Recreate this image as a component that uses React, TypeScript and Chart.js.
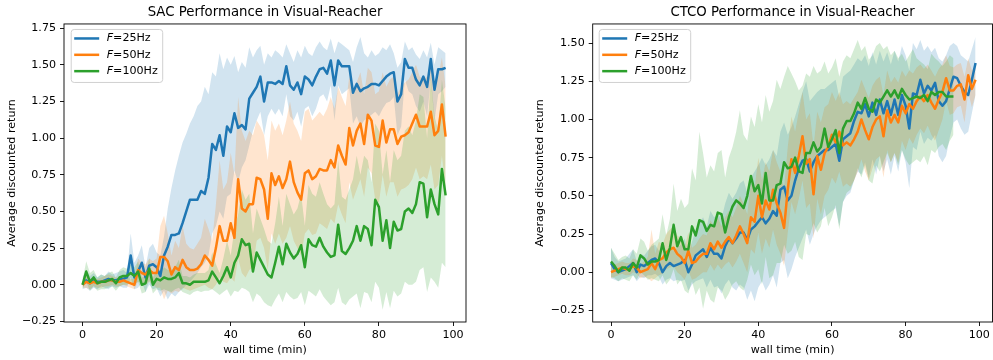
import React, { useEffect, useRef } from "react";
import { Chart, registerables } from "chart.js";

Chart.register(...registerables);

const FONT = "'DejaVu Sans', 'Liberation Sans', sans-serif";
const BLUE = "#1f77b4";
const ORANGE = "#ff7f0e";
const GREEN = "#2ca02c";

// ---------- x grids (wall time, min) ----------
const sacMinutes = [
  0, 1, 2, 3, 4, 5, 6, 7, 8, 9, 10, 11, 12, 13, 14, 15, 16, 17, 18, 19,
  20, 21, 22, 23, 24, 25, 26, 27, 28, 29, 30, 31, 32, 33, 34, 35, 36, 37, 38, 39,
  40, 41, 42, 43, 44, 45, 46, 47, 48, 49, 50, 51, 52, 53, 54, 55, 56, 57, 58, 59,
  60, 61, 62, 63, 64, 65, 66, 67, 68, 69, 70, 71, 72, 73, 74, 75, 76, 77, 78, 79,
  80, 81, 82, 83, 84, 85, 86, 87, 88, 89, 90, 91, 92, 93, 94, 95, 96, 97, 98,
];
const ctcoMinutes = [
  0, 1, 2, 3, 4, 5, 6, 7, 8, 9, 10, 11, 12, 13, 14, 15, 16, 17, 18, 19,
  20, 21, 22, 23, 24, 25, 26, 27, 28, 29, 30, 31, 32, 33, 34, 35, 36, 37, 38, 39,
  40, 41, 42, 43, 44, 45, 46, 47, 48, 49, 50, 51, 52, 53, 54, 55, 56, 57, 58, 59,
  60, 61, 62, 63, 64, 65, 66, 67, 68, 69, 70, 71, 72, 73, 74, 75, 76, 77, 78, 79,
  80, 81, 82, 83, 84, 85, 86, 87, 88, 89, 90, 91, 92, 93, 94, 95, 96, 97, 98, 99,
];
const ctcoMinutes100Hz = [
  0, 1, 2, 3, 4, 5, 6, 7, 8, 9, 10, 11, 12, 13, 14, 15, 16, 17, 18, 19,
  20, 21, 22, 23, 24, 25, 26, 27, 28, 29, 30, 31, 32, 33, 34, 35, 36, 37, 38, 39,
  40, 41, 42, 43, 44, 45, 46, 47, 48, 49, 50, 51, 52, 53, 54, 55, 56, 57, 58, 59,
  60, 61, 62, 63, 64, 65, 66, 67, 68, 69, 70, 71, 72, 73, 74, 75, 76, 77, 78, 79,
  80, 81, 82, 83, 84, 85, 86, 87, 88, 89, 90, 91, 92, 93,
];

// ---------- SAC ----------
const sac25Mean = [
  0.00, 0.03, 0.01, 0.03, 0.02, 0.02, 0.03, 0.04, 0.03, 0.03,
  0.04, 0.04, 0.05, 0.20, 0.05, 0.09, 0.15, 0.05, 0.13, 0.14,
  0.12, 0.06, 0.20, 0.26, 0.34, 0.34, 0.35, 0.42, 0.50, 0.58,
  0.58, 0.58, 0.64, 0.62, 0.73, 0.96, 0.92, 1.02, 0.88, 1.08,
  1.04, 1.17, 1.07, 1.09, 1.06, 1.27, 1.31, 1.35, 1.42, 1.25,
  1.38, 1.38, 1.37, 1.39, 1.37, 1.49, 1.36, 1.33, 1.38, 1.30,
  1.42, 1.40, 1.36, 1.42, 1.47, 1.48, 1.44, 1.53, 1.36, 1.53,
  1.49, 1.49, 1.49, 1.31, 1.37, 1.32, 1.34, 1.35, 1.37, 1.37,
  1.36, 1.39, 1.42, 1.44, 1.45, 1.25, 1.30, 1.54, 1.48, 1.48,
  1.40, 1.36, 1.42, 1.35, 1.54, 1.33, 1.47, 1.47, 1.48,
];
const sac25Upper = [
  0.05, 0.10, 0.06, 0.08, 0.05, 0.07, 0.06, 0.09, 0.07, 0.08,
  0.09, 0.10, 0.08, 0.35, 0.15, 0.20, 0.27, 0.12, 0.25, 0.28,
  0.22, 0.20, 0.33, 0.52, 0.66, 0.78, 0.88, 0.97, 1.03, 1.10,
  1.15, 1.22, 1.25, 1.35, 1.30, 1.45, 1.42, 1.58, 1.47, 1.55,
  1.50, 1.56, 1.45, 1.52, 1.48, 1.62, 1.55, 1.60, 1.63, 1.50,
  1.58, 1.55, 1.60, 1.58, 1.55, 1.64, 1.58, 1.52, 1.60, 1.55,
  1.63, 1.58, 1.56, 1.62, 1.66, 1.62, 1.60, 1.68, 1.58, 1.66,
  1.64, 1.62, 1.60, 1.52, 1.62, 1.69, 1.58, 1.55, 1.60, 1.56,
  1.58, 1.62, 1.60, 1.64, 1.58, 1.48, 1.52, 1.66, 1.60, 1.62,
  1.57, 1.54, 1.60, 1.55, 1.65, 1.50, 1.62, 1.60, 1.58,
];
const sac25Lower = [
  -0.03, -0.02, -0.04, -0.02, -0.03, -0.01, -0.02, -0.03, -0.01, -0.02,
  -0.01, -0.02, -0.02, 0.05, -0.03, -0.02, 0.02, -0.05, 0.00, -0.03,
  -0.02, -0.08, -0.04, -0.10, -0.06, -0.08, -0.05, -0.03, 0.00, 0.02,
  0.05, 0.08, 0.12, 0.15, 0.20, 0.35, 0.40, 0.50, 0.45, 0.60,
  0.62, 0.78, 0.70, 0.80, 0.85, 0.95, 1.05, 1.12, 1.18, 1.02,
  1.15, 1.20, 1.16, 1.20, 1.15, 1.30, 1.15, 1.12, 1.18, 1.08,
  1.20, 1.22, 1.15, 1.20, 1.28, 1.30, 1.25, 1.36, 1.12, 1.36,
  1.30, 1.32, 1.34, 1.10, 1.15, 1.08, 1.12, 1.14, 1.16, 1.18,
  1.15, 1.20, 1.24, 1.25, 1.28, 1.02, 1.08, 1.40, 1.32, 1.30,
  1.22, 1.18, 1.25, 1.15, 1.40, 1.12, 1.30, 1.32, 1.35,
];
const sac50Mean = [
  0.00, 0.02, 0.01, 0.02, 0.01, 0.02, 0.02, 0.03, 0.03, 0.02,
  0.02, 0.03, 0.02, 0.01, 0.00, 0.10, 0.08, 0.07, 0.10, 0.08,
  0.08, 0.19, 0.19, 0.16, 0.07, 0.12, 0.10, 0.17, 0.12, 0.10,
  0.10, 0.11, 0.14, 0.20, 0.17, 0.13, 0.25, 0.40, 0.30, 0.30,
  0.42, 0.32, 0.72, 0.52, 0.50, 0.55, 0.55, 0.73, 0.72, 0.65,
  0.45, 0.76, 0.68, 0.74, 0.66, 0.72, 0.84, 0.70, 0.63, 0.58,
  0.76, 0.78, 0.72, 0.74, 0.79, 0.78, 0.78, 0.85, 0.80, 0.95,
  0.88, 0.82, 1.07, 0.95, 1.05, 1.10, 0.96, 1.16, 1.12, 0.95,
  0.94, 1.12, 0.97, 1.06, 1.06, 0.96, 1.01, 1.02, 1.04, 1.10,
  1.16, 1.08, 1.08, 1.08, 1.18, 1.02, 1.05, 1.23, 1.01,
];
const sac50Upper = [
  0.02, 0.06, 0.04, 0.05, 0.04, 0.05, 0.06, 0.07, 0.06, 0.05,
  0.05, 0.06, 0.05, 0.04, 0.04, 0.18, 0.15, 0.14, 0.18, 0.16,
  0.18, 0.40, 0.47, 0.35, 0.20, 0.30, 0.25, 0.40, 0.28, 0.25,
  0.24, 0.28, 0.32, 0.45, 0.38, 0.30, 0.55, 0.85, 0.65, 0.70,
  0.90, 0.75, 1.28, 1.05, 0.98, 1.05, 1.02, 1.12, 1.08, 1.02,
  0.85, 1.12, 1.05, 1.10, 1.02, 1.12, 1.25, 1.10, 1.05, 0.98,
  1.18, 1.20, 1.12, 1.15, 1.18, 1.15, 1.20, 1.28, 1.20, 1.35,
  1.28, 1.22, 1.42, 1.30, 1.38, 1.45, 1.30, 1.48, 1.45, 1.30,
  1.32, 1.45, 1.35, 1.40, 1.42, 1.30, 1.35, 1.38, 1.40, 1.45,
  1.50, 1.42, 1.40, 1.42, 1.50, 1.38, 1.42, 1.55, 1.35,
];
const sac50Lower = [
  -0.02, -0.02, -0.03, -0.01, -0.02, -0.02, -0.01, -0.01, 0.00, -0.01,
  -0.01, 0.00, -0.01, -0.02, -0.03, 0.02, 0.01, 0.00, 0.02, 0.00,
  -0.02, -0.02, -0.10, -0.04, -0.06, -0.04, -0.05, -0.02, -0.03, -0.04,
  -0.03, -0.02, -0.01, 0.00, -0.02, -0.03, 0.00, 0.05, 0.02, 0.01,
  0.05, 0.02, 0.18, 0.08, 0.05, 0.10, 0.12, 0.30, 0.32, 0.25,
  0.10, 0.35, 0.28, 0.35, 0.28, 0.32, 0.40, 0.30, 0.25, 0.20,
  0.35, 0.38, 0.34, 0.35, 0.42, 0.40, 0.38, 0.45, 0.42, 0.55,
  0.48, 0.42, 0.70, 0.58, 0.65, 0.72, 0.60, 0.80, 0.76, 0.58,
  0.56, 0.75, 0.60, 0.70, 0.70, 0.60, 0.65, 0.66, 0.68, 0.72,
  0.80, 0.72, 0.74, 0.72, 0.82, 0.65, 0.68, 0.88, 0.66,
];
const sac100Mean = [
  0.00, 0.09, 0.02, 0.05, 0.01, 0.02, 0.02, 0.03, 0.04, 0.01,
  0.05, 0.06, 0.06, 0.08, 0.06, 0.09, 0.00, 0.01, 0.11, 0.00,
  0.04, 0.03, 0.05, 0.04, 0.04, 0.05, 0.08, 0.01, 0.01, 0.00,
  0.02, 0.02, 0.02, 0.02, 0.03, 0.09, 0.05, 0.01, 0.06, 0.12,
  0.05, 0.15, 0.20, 0.31, 0.27, 0.28, 0.09, 0.22, 0.17, 0.12,
  0.07, 0.05, 0.15, 0.26, 0.14, 0.28, 0.22, 0.18, 0.21, 0.27,
  0.12, 0.31, 0.27, 0.26, 0.32, 0.26, 0.22, 0.19, 0.20, 0.41,
  0.23, 0.21, 0.25, 0.30, 0.40, 0.30, 0.40, 0.38, 0.27, 0.58,
  0.53, 0.30, 0.44, 0.25, 0.43, 0.37, 0.38, 0.50, 0.52, 0.49,
  0.55, 0.70, 0.69, 0.46, 0.65, 0.55, 0.48, 0.79, 0.61,
];
const sac100Upper = [
  0.03, 0.16, 0.08, 0.10, 0.05, 0.07, 0.06, 0.08, 0.09, 0.05,
  0.10, 0.12, 0.11, 0.14, 0.12, 0.16, 0.05, 0.06, 0.18, 0.05,
  0.10, 0.08, 0.12, 0.10, 0.10, 0.12, 0.17, 0.06, 0.06, 0.05,
  0.07, 0.08, 0.08, 0.08, 0.10, 0.22, 0.14, 0.08, 0.18, 0.30,
  0.20, 0.38, 0.48, 0.65, 0.58, 0.62, 0.35, 0.52, 0.45, 0.38,
  0.30, 0.28, 0.42, 0.60, 0.40, 0.62, 0.55, 0.48, 0.52, 0.62,
  0.40, 0.68, 0.62, 0.60, 0.70, 0.62, 0.55, 0.52, 0.55, 0.85,
  0.60, 0.58, 0.65, 0.72, 0.88, 0.75, 0.88, 0.85, 0.70, 1.10,
  1.05, 0.75, 0.92, 0.70, 0.92, 0.85, 0.88, 1.05, 1.08, 1.02,
  1.12, 1.30, 1.28, 1.00, 1.42, 1.15, 1.05, 1.40, 1.20,
];
const sac100Lower = [
  -0.03, 0.02, -0.04, -0.01, -0.04, -0.03, -0.03, -0.02, -0.01, -0.04,
  -0.01, 0.00, 0.00, 0.02, 0.00, 0.02, -0.06, -0.05, 0.03, -0.06,
  -0.03, -0.04, -0.03, -0.04, -0.05, -0.03, -0.02, -0.05, -0.06, -0.07,
  -0.05, -0.04, -0.05, -0.04, -0.04, -0.03, -0.05, -0.07, -0.05, -0.03,
  -0.08, -0.04, -0.05, -0.02, -0.03, -0.05, -0.12, -0.06, -0.08, -0.12,
  -0.14, -0.15, -0.10, -0.06, -0.12, -0.05, -0.08, -0.10, -0.09, -0.05,
  -0.14, -0.04, -0.06, -0.08, -0.03, -0.08, -0.11, -0.14, -0.12, -0.02,
  -0.12, -0.14, -0.10, -0.08, -0.06, -0.16, -0.05, -0.06, -0.12, 0.02,
  -0.02, -0.17, -0.05, -0.16, -0.04, -0.08, -0.06, 0.02, 0.00, 0.00,
  0.02, 0.10, 0.12, -0.05, 0.05, 0.02, -0.02, 0.15, 0.12,
];

// ---------- CTCO ----------
const ctco25Mean = [
  0.06, 0.02, 0.00, 0.01, 0.02, 0.04, 0.06, 0.00, 0.05, 0.04,
  0.06, 0.08, 0.09, 0.06, 0.00, 0.04, 0.06, 0.04, 0.05, 0.06,
  0.08, 0.00, 0.05, 0.11, 0.13, 0.15, 0.10, 0.16, 0.12, 0.12,
  0.09, 0.17, 0.22, 0.19, 0.22, 0.26, 0.26, 0.21, 0.28, 0.30,
  0.33, 0.36, 0.32, 0.35, 0.40, 0.37, 0.54, 0.56, 0.47, 0.50,
  0.60, 0.68, 0.73, 0.74, 0.66, 0.72, 0.76, 0.78, 0.80, 0.80,
  0.82, 0.84, 0.73, 0.87, 0.89, 0.91, 0.99, 1.05, 1.04, 1.10,
  1.02, 1.11, 1.03, 1.13, 1.04, 1.12, 1.03, 1.13, 1.03, 1.16,
  1.09, 0.94, 1.17, 1.16, 1.26, 1.17, 1.22, 1.19, 1.24, 1.12,
  1.09, 1.12, 1.20, 1.28, 1.27, 1.22, 1.18, 1.16, 1.26, 1.37,
];
const ctco25Upper = [
  0.16, 0.10, 0.07, 0.08, 0.09, 0.12, 0.15, 0.07, 0.12, 0.11,
  0.14, 0.17, 0.18, 0.14, 0.08, 0.13, 0.16, 0.14, 0.16, 0.18,
  0.22, 0.12, 0.20, 0.28, 0.32, 0.36, 0.30, 0.40, 0.36, 0.38,
  0.35, 0.45, 0.52, 0.48, 0.52, 0.58, 0.60, 0.52, 0.62, 0.66,
  0.70, 0.75, 0.70, 0.74, 0.80, 0.76, 0.92, 0.98, 0.90, 0.95,
  1.02, 1.10, 1.18, 1.25, 1.12, 1.15, 1.18, 1.20, 1.20, 1.22,
  1.24, 1.26, 1.14, 1.28, 1.30, 1.32, 1.36, 1.40, 1.38, 1.42,
  1.35, 1.44, 1.36, 1.45, 1.38, 1.44, 1.36, 1.45, 1.38, 1.48,
  1.42, 1.32, 1.50, 1.46, 1.52, 1.45, 1.48, 1.44, 1.47, 1.40,
  1.38, 1.42, 1.48, 1.50, 1.48, 1.42, 1.40, 1.38, 1.46, 1.54,
];
const ctco25Lower = [
  -0.04, -0.05, -0.06, -0.05, -0.04, -0.03, -0.02, -0.06, -0.03, -0.04,
  -0.02, -0.02, -0.01, -0.03, -0.08, -0.05, -0.04, -0.06, -0.05, -0.06,
  -0.05, -0.12, -0.08, -0.06, -0.05, -0.04, -0.10, -0.05, -0.10, -0.09,
  -0.14, -0.08, -0.05, -0.10, -0.12, -0.08, -0.10, -0.18, -0.12, -0.19,
  -0.10, -0.06, -0.12, -0.08, -0.02, -0.10, 0.06, 0.08, -0.04, 0.02,
  0.10, 0.16, 0.22, 0.28, 0.18, 0.25, 0.30, 0.34, 0.36, 0.38,
  0.40, 0.42, 0.30, 0.46, 0.50, 0.52, 0.60, 0.66, 0.64, 0.72,
  0.62, 0.74, 0.64, 0.76, 0.66, 0.74, 0.64, 0.76, 0.66, 0.80,
  0.72, 0.55, 0.82, 0.80, 0.92, 0.84, 0.88, 0.86, 0.90, 0.76,
  0.72, 0.76, 0.88, 0.98, 1.00, 0.94, 0.90, 0.92, 1.04, 1.16,
];
const ctco50Mean = [
  0.00, 0.01, 0.02, 0.03, 0.02, 0.02, 0.04, 0.03, 0.00, 0.01,
  0.02, 0.06, 0.02, 0.08, 0.09, 0.13, 0.15, 0.16, 0.12, 0.10,
  0.06, 0.14, 0.06, 0.07, 0.10, 0.12, 0.12, 0.19, 0.15, 0.20,
  0.16, 0.20, 0.23, 0.19, 0.24, 0.30, 0.25, 0.19, 0.36, 0.33,
  0.50, 0.36, 0.47, 0.41, 0.54, 0.45, 0.39, 0.29, 0.54, 0.74,
  0.65, 0.76, 0.89, 0.71, 0.74, 0.51, 0.76, 0.67, 0.78, 0.82,
  0.90, 0.85, 0.92, 0.83, 0.85, 0.83, 0.87, 0.92, 1.00, 0.93,
  0.87, 0.95, 1.00, 1.02, 0.89, 1.06, 0.98, 1.03, 0.98, 1.09,
  1.04, 1.10, 1.07, 1.12, 1.15, 1.12, 1.16, 1.11, 1.07, 1.13,
  1.18, 1.27, 1.19, 1.19, 1.22, 1.23, 1.13, 1.29, 1.20, 1.26,
];
const ctco50Upper = [
  0.05, 0.05, 0.06, 0.07, 0.06, 0.06, 0.09, 0.08, 0.05, 0.07,
  0.10, 0.28, 0.12, 0.20, 0.18, 0.25, 0.28, 0.30, 0.24, 0.22,
  0.16, 0.26, 0.16, 0.18, 0.22, 0.25, 0.24, 0.34, 0.30, 0.36,
  0.30, 0.36, 0.40, 0.36, 0.42, 0.50, 0.45, 0.38, 0.58, 0.55,
  0.75, 0.60, 0.72, 0.66, 0.80, 0.72, 0.66, 0.55, 0.82, 1.02,
  0.92, 1.05, 1.18, 1.00, 1.04, 0.82, 1.05, 0.98, 1.08, 1.10,
  1.18, 1.12, 1.18, 1.10, 1.12, 1.10, 1.14, 1.18, 1.26, 1.20,
  1.14, 1.22, 1.26, 1.28, 1.16, 1.32, 1.24, 1.28, 1.24, 1.32,
  1.28, 1.32, 1.30, 1.34, 1.36, 1.33, 1.36, 1.32, 1.28, 1.33,
  1.36, 1.42, 1.35, 1.34, 1.36, 1.37, 1.28, 1.40, 1.32, 1.36,
];
const ctco50Lower = [
  -0.04, -0.03, -0.02, -0.01, -0.02, -0.02, 0.00, -0.01, -0.04, -0.03,
  -0.04, -0.06, -0.04, -0.02, -0.01, 0.02, 0.03, 0.04, 0.00, -0.02,
  -0.05, 0.01, -0.05, -0.04, -0.02, 0.00, 0.00, 0.05, 0.01, 0.05,
  0.02, 0.05, 0.07, 0.03, 0.07, 0.12, 0.06, 0.00, 0.15, 0.12,
  0.26, 0.12, 0.22, 0.16, 0.28, 0.18, 0.12, 0.04, 0.26, 0.46,
  0.38, 0.48, 0.60, 0.42, 0.45, 0.22, 0.48, 0.38, 0.50, 0.54,
  0.62, 0.58, 0.66, 0.56, 0.58, 0.56, 0.60, 0.66, 0.74, 0.66,
  0.60, 0.68, 0.74, 0.76, 0.62, 0.80, 0.72, 0.78, 0.72, 0.86,
  0.80, 0.88, 0.84, 0.90, 0.94, 0.91, 0.96, 0.90, 0.86, 0.93,
  1.00, 1.12, 1.03, 1.04, 1.08, 1.09, 0.98, 1.18, 1.08, 1.16,
];
const ctco100Mean = [
  0.07, 0.04, 0.00, 0.03, 0.03, 0.01, 0.06, 0.03, 0.11, 0.09,
  0.05, 0.07, 0.07, 0.08, 0.19, 0.08, 0.16, 0.31, 0.17, 0.23,
  0.15, 0.15, 0.30, 0.24, 0.34, 0.33, 0.27, 0.31, 0.30, 0.39,
  0.38, 0.26, 0.36, 0.43, 0.47, 0.45, 0.42, 0.50, 0.63, 0.53,
  0.57, 0.45, 0.65, 0.47, 0.47, 0.57, 0.58, 0.72, 0.68, 0.69,
  0.75, 0.66, 0.65, 0.78, 0.78, 0.85, 0.79, 0.82, 0.94, 0.82,
  0.87, 0.93, 0.78, 0.94, 0.99, 0.99, 1.04, 1.11, 1.07, 1.14,
  1.07, 1.05, 1.13, 1.11, 1.15, 1.19, 1.15, 1.19, 1.14, 1.20,
  1.16, 1.13, 1.14, 1.15, 1.14, 1.16, 1.12, 1.18, 1.16, 1.18,
  1.18, 1.15, 1.15, 1.15,
];
const ctco100Upper = [
  0.16, 0.12, 0.08, 0.10, 0.11, 0.09, 0.15, 0.12, 0.22, 0.20,
  0.14, 0.18, 0.20, 0.22, 0.38, 0.24, 0.35, 0.58, 0.40, 0.48,
  0.42, 0.45, 0.68, 0.60, 0.92, 0.78, 0.62, 0.70, 0.66, 0.78,
  0.80, 0.62, 0.75, 0.82, 0.92, 1.06, 0.90, 0.86, 1.02, 0.95,
  1.10, 0.98, 1.16, 1.05, 1.12, 1.26, 1.20, 1.28, 1.35, 1.30,
  1.25, 1.19, 1.22, 1.30, 1.28, 1.35, 1.30, 1.32, 1.38, 1.30,
  1.34, 1.40, 1.28, 1.38, 1.42, 1.40, 1.46, 1.52, 1.45, 1.48,
  1.39, 1.42, 1.48, 1.50, 1.46, 1.48, 1.42, 1.45, 1.40, 1.43,
  1.38, 1.42, 1.46, 1.40, 1.38, 1.36, 1.33, 1.43, 1.40, 1.38,
  1.35, 1.38, 1.42, 1.40,
];
const ctco100Lower = [
  -0.03, -0.04, -0.06, -0.04, -0.05, -0.06, -0.02, -0.05, 0.00, -0.02,
  -0.05, -0.04, -0.05, -0.06, -0.02, -0.08, -0.05, 0.02, -0.08, -0.05,
  -0.12, -0.14, -0.06, -0.15, -0.10, -0.24, -0.12, -0.18, -0.20, -0.10,
  -0.12, -0.18, -0.14, -0.08, -0.06, -0.10, -0.12, -0.05, 0.05, -0.02,
  0.02, -0.08, 0.10, -0.04, -0.02, 0.06, 0.06, 0.18, 0.12, 0.14,
  0.20, 0.10, 0.08, 0.25, 0.24, 0.32, 0.26, 0.30, 0.42, 0.30,
  0.36, 0.44, 0.28, 0.46, 0.52, 0.54, 0.60, 0.68, 0.62, 0.70,
  0.60, 0.58, 0.70, 0.66, 0.72, 0.78, 0.72, 0.78, 0.70, 0.80,
  0.74, 0.70, 0.72, 0.74, 0.72, 0.76, 0.70, 0.80, 0.78, 0.82,
  0.84, 0.80, 0.86, 0.90,
];

// ---------- ticks & labels ----------
const xTicks = [0, 20, 40, 60, 80, 100];
const sacYTicks = [-0.25, 0, 0.25, 0.5, 0.75, 1.0, 1.25, 1.5, 1.75];
const sacYTickLabels = ["\u22120.25", "0.00", "0.25", "0.50", "0.75", "1.00", "1.25", "1.50", "1.75"];
const ctcoYTicks = [-0.25, 0, 0.25, 0.5, 0.75, 1.0, 1.25, 1.5];
const ctcoYTickLabels = ["\u22120.25", "0.00", "0.25", "0.50", "0.75", "1.00", "1.25", "1.50"];
const frequencies = ["25Hz", "50Hz", "100Hz"];
const seriesColors = [BLUE, ORANGE, GREEN];

function hexToRgba(hex: string, a: number) {
  const n = parseInt(hex.slice(1), 16);
  return `rgba(${(n >> 16) & 255},${(n >> 8) & 255},${n & 255},${a})`;
}

type Series = { x: number[]; mean: number[]; upper: number[]; lower: number[] };
type Panel = {
  title: string;
  series: Series[];
  yTicks: number[];
  yTickLabels: string[];
  xMin: number;
  xMax: number;
  yMin: number;
  yMax: number;
  padLeft: number;
  padRight: number;
  yAxisWidth: number;
  legendOffset: number;
};

const mplPlugin = {
  id: "mplDecor",
  afterDraw(chart: any, _args: any, opts: any) {
    const { ctx, chartArea } = chart;
    ctx.save();
    // frame (all four spines)
    ctx.strokeStyle = "#000";
    ctx.lineWidth = 0.9;
    ctx.strokeRect(chartArea.left, chartArea.top, chartArea.right - chartArea.left, chartArea.bottom - chartArea.top);
    // legend
    const bx = chartArea.left + opts.offset;
    const by = chartArea.top + 5;
    const bw = 91.5;
    const bh = 53;
    ctx.beginPath();
    (ctx as any).roundRect(bx + 0.5, by + 0.5, bw, bh, 3);
    ctx.fillStyle = "rgba(255,255,255,0.8)";
    ctx.fill();
    ctx.strokeStyle = "#d0d0d0";
    ctx.lineWidth = 1;
    ctx.stroke();
    frequencies.forEach((f, i) => {
      const cy = by + 9.5 + i * 16.35;
      ctx.beginPath();
      ctx.moveTo(bx + 3.5, cy);
      ctx.lineTo(bx + 28.5, cy);
      ctx.strokeStyle = seriesColors[i];
      ctx.lineWidth = 2.5;
      ctx.stroke();
      ctx.fillStyle = "#000";
      ctx.textBaseline = "middle";
      ctx.textAlign = "left";
      ctx.font = `italic 11.1px ${FONT}`;
      ctx.fillText("F", bx + 36, cy);
      const fw = ctx.measureText("F").width;
      ctx.font = `11.1px ${FONT}`;
      ctx.fillText("=" + f, bx + 36 + fw, cy);
    });
    ctx.restore();
  },
};

function buildConfig(p: Panel): any {
  const datasets: any[] = [];
  p.series.forEach((s, i) => {
    const pts = (ys: number[]) => ys.map((y, j) => ({ x: s.x[j], y }));
    datasets.push({
      label: frequencies[i] + " upper",
      data: pts(s.upper),
      borderWidth: 0,
      borderColor: "rgba(0,0,0,0)",
      backgroundColor: hexToRgba(seriesColors[i], 0.2),
      pointRadius: 0,
      fill: "+1",
      order: 10 - i,
    });
    datasets.push({
      label: frequencies[i] + " lower",
      data: pts(s.lower),
      borderWidth: 0,
      borderColor: "rgba(0,0,0,0)",
      backgroundColor: "rgba(0,0,0,0)",
      pointRadius: 0,
      fill: false,
      order: 10 - i,
    });
  });
  p.series.forEach((s, i) => {
    datasets.push({
      label: "F=" + frequencies[i],
      data: s.mean.map((y, j) => ({ x: s.x[j], y })),
      borderColor: seriesColors[i],
      borderWidth: 2.5,
      pointRadius: 0,
      fill: false,
      order: 3 - i,
      borderJoinStyle: "round",
      borderCapStyle: "butt",
    });
  });
  const tickFont = { family: FONT, size: 11.1 };
  return {
    type: "line",
    data: { datasets },
    plugins: [mplPlugin],
    options: {
      animation: false,
      responsive: false,
      devicePixelRatio: 1,
      events: [],
      layout: { padding: { left: p.padLeft, right: p.padRight, top: 0, bottom: 0 } },
      plugins: {
        legend: { display: false },
        tooltip: { enabled: false },
        title: {
          display: true,
          text: p.title,
          color: "#000",
          font: { family: FONT, size: 13.3, weight: "normal" },
          padding: { top: 4.3, bottom: 3.7 },
          fullSize: false,
        },
        mplDecor: { offset: p.legendOffset },
      },
      scales: {
        x: {
          type: "linear",
          min: p.xMin,
          max: p.xMax,
          afterBuildTicks: (sc: any) => {
            sc.ticks = xTicks.map((v) => ({ value: v }));
          },
          afterFit: (sc: any) => {
            sc.height = 38;
            sc.paddingLeft = 0;
            sc.paddingRight = 0;
          },
          ticks: {
            color: "#000",
            font: tickFont,
            padding: 2.5,
            autoSkip: false,
            maxRotation: 0,
            callback: (_v: any, idx: number) => String(xTicks[idx]),
          },
          grid: { drawOnChartArea: false, drawTicks: true, tickLength: 4, color: "#000", lineWidth: 0.9 },
          border: { display: false },
          title: {
            display: true,
            text: "wall time (min)",
            color: "#000",
            font: tickFont,
            padding: { top: 0, bottom: 3.3 },
          },
        },
        y: {
          type: "linear",
          min: p.yMin,
          max: p.yMax,
          afterBuildTicks: (sc: any) => {
            sc.ticks = p.yTicks.map((v) => ({ value: v }));
          },
          afterFit: (sc: any) => {
            sc.width = p.yAxisWidth;
            sc.paddingTop = 0;
            sc.paddingBottom = 0;
          },
          ticks: {
            color: "#000",
            font: tickFont,
            padding: 4,
            autoSkip: false,
            callback: (_v: any, idx: number) => p.yTickLabels[idx],
          },
          grid: { drawOnChartArea: false, drawTicks: true, tickLength: 4, color: "#000", lineWidth: 0.9 },
          border: { display: false },
          title: {
            display: true,
            text: "Average discounted return",
            color: "#000",
            font: tickFont,
            padding: { top: 5.6, bottom: 0 },
          },
        },
      },
    },
  };
}

const sacPanel: Panel = {
  title: "SAC Performance in Visual-Reacher",
  series: [
    { x: sacMinutes, mean: sac25Mean, upper: sac25Upper, lower: sac25Lower },
    { x: sacMinutes, mean: sac50Mean, upper: sac50Upper, lower: sac50Lower },
    { x: sacMinutes, mean: sac100Mean, upper: sac100Upper, lower: sac100Lower },
  ],
  yTicks: sacYTicks,
  yTickLabels: sacYTickLabels,
  xMin: -5.0,
  xMax: 103.5,
  yMin: -0.254,
  yMax: 1.779,
  padLeft: 0,
  padRight: 30,
  yAxisWidth: 64,
  legendOffset: 6.7,
};

const ctcoPanel: Panel = {
  title: "CTCO Performance in Visual-Reacher",
  series: [
    { x: ctcoMinutes, mean: ctco25Mean, upper: ctco25Upper, lower: ctco25Lower },
    { x: ctcoMinutes, mean: ctco50Mean, upper: ctco50Upper, lower: ctco50Lower },
    { x: ctcoMinutes100Hz, mean: ctco100Mean, upper: ctco100Upper, lower: ctco100Lower },
  ],
  yTicks: ctcoYTicks,
  yTickLabels: ctcoYTickLabels,
  xMin: -4.97,
  xMax: 103.6,
  yMin: -0.326,
  yMax: 1.625,
  padLeft: 31.7,
  padRight: 0.5,
  yAxisWidth: 65,
  legendOffset: 6,
};

function ChartPanel({ panel, left, width }: { panel: Panel; left: number; width: number }) {
  const ref = useRef<HTMLCanvasElement>(null);
  useEffect(() => {
    if (!ref.current) return;
    const chart = new Chart(ref.current, buildConfig(panel));
    return () => chart.destroy();
  }, [panel]);
  return (
    <canvas
      ref={ref}
      width={width}
      height={360}
      style={{ position: "absolute", left, top: 0, width, height: 360, display: "block" }}
    />
  );
}

export default function App() {
  return (
    <div style={{ position: "fixed", left: 0, top: 0, width: 993, height: 360, background: "#fff", overflow: "hidden" }}>
      <ChartPanel panel={sacPanel} left={0} width={496} />
      <ChartPanel panel={ctcoPanel} left={496} width={497} />
    </div>
  );
}
